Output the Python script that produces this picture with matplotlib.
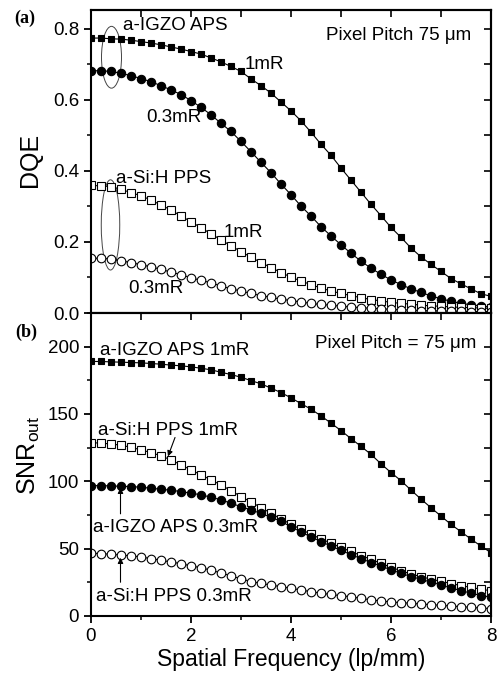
import numpy as np
import matplotlib
matplotlib.use('Agg')
import matplotlib.pyplot as plt
from matplotlib.patches import Ellipse
from matplotlib.ticker import MultipleLocator

plt.rcParams['font.family'] = ['Liberation Sans', 'DejaVu Sans']
plt.rcParams['mathtext.fontset'] = 'custom'
plt.rcParams['mathtext.rm'] = 'Liberation Sans'

# spatial frequency grid (lp/mm), 0.2 step
freq = np.round(np.arange(0, 8.01, 0.2), 1)

# DQE curves
dqe_igzo_1mr = [0.774, 0.774, 0.772, 0.771, 0.768, 0.764, 0.760, 0.755, 0.749, 0.743,
                0.736, 0.729, 0.718, 0.707, 0.694, 0.680, 0.659, 0.640, 0.619, 0.594,
                0.569, 0.541, 0.509, 0.475, 0.444, 0.408, 0.374, 0.340, 0.306, 0.274,
                0.241, 0.213, 0.183, 0.158, 0.137, 0.117, 0.097, 0.082, 0.068, 0.054, 0.047]
dqe_igzo_03mr = [0.682, 0.682, 0.680, 0.675, 0.668, 0.660, 0.651, 0.640, 0.628, 0.615,
                 0.598, 0.579, 0.558, 0.534, 0.511, 0.483, 0.454, 0.424, 0.395, 0.363,
                 0.333, 0.301, 0.273, 0.243, 0.217, 0.192, 0.168, 0.146, 0.126, 0.109,
                 0.093, 0.080, 0.068, 0.058, 0.048, 0.040, 0.033, 0.027, 0.023, 0.020, 0.017]
dqe_si_1mr = [0.359, 0.358, 0.356, 0.348, 0.339, 0.330, 0.318, 0.304, 0.290, 0.273,
              0.257, 0.240, 0.223, 0.206, 0.189, 0.173, 0.157, 0.142, 0.128, 0.114,
              0.101, 0.090, 0.080, 0.070, 0.062, 0.055, 0.049, 0.043, 0.038, 0.034,
              0.030, 0.027, 0.025, 0.022, 0.020, 0.019, 0.017, 0.016, 0.015, 0.014, 0.013]
dqe_si_03mr = [0.154, 0.154, 0.152, 0.147, 0.142, 0.136, 0.130, 0.123, 0.115, 0.108,
               0.099, 0.092, 0.085, 0.076, 0.068, 0.062, 0.055, 0.049, 0.044, 0.039,
               0.035, 0.031, 0.027, 0.024, 0.022, 0.019, 0.017, 0.015, 0.013, 0.012,
               0.010, 0.009, 0.008, 0.007, 0.006, 0.006, 0.005, 0.005, 0.004, 0.004, 0.004]

# SNR_out curves
snr_igzo_1mr = [189.0, 189.0, 188.7, 188.5, 188.2, 188.0, 187.5, 187.0, 186.3, 185.8,
                185.0, 184.0, 182.8, 181.0, 179.3, 177.3, 174.8, 172.4, 169.2, 165.9,
                162.0, 157.7, 153.6, 148.6, 143.2, 137.7, 131.7, 126.0, 120.0, 113.0,
                106.5, 100.5, 93.5, 86.8, 80.4, 74.2, 68.0, 62.6, 57.1, 51.9, 47.0]
snr_igzo_03mr = [96.8, 96.8, 96.6, 96.3, 96.1, 95.6, 94.9, 94.1, 93.4, 92.4,
                 91.2, 90.0, 88.2, 86.3, 83.7, 81.2, 78.7, 76.2, 73.3, 70.3,
                 66.2, 62.4, 58.7, 55.2, 51.9, 48.7, 45.6, 42.6, 39.7, 37.0,
                 34.3, 31.7, 29.3, 27.3, 25.1, 23.1, 20.7, 18.9, 16.9, 15.2, 14.0]
snr_si_1mr = [128.8, 128.3, 127.8, 126.8, 125.3, 123.3, 121.4, 118.9, 115.9, 112.2,
              108.5, 104.8, 101.1, 97.3, 93.1, 88.7, 84.7, 80.5, 76.3, 72.1,
              68.1, 64.4, 60.7, 57.3, 54.1, 50.9, 47.9, 44.9, 42.1, 39.1,
              36.2, 33.6, 31.2, 29.2, 27.4, 25.7, 24.1, 22.6, 21.2, 19.9, 18.7]
snr_si_03mr = [46.6, 46.3, 45.8, 45.3, 44.6, 43.9, 42.6, 41.4, 40.1, 38.9,
               37.2, 35.9, 34.0, 32.0, 29.8, 27.6, 25.6, 24.2, 23.0, 21.8,
               20.6, 19.3, 18.1, 16.9, 16.0, 15.1, 14.2, 13.2, 11.9, 11.2,
               10.4, 9.9, 9.4, 8.9, 8.4, 7.9, 7.4, 6.9, 6.4, 5.9, 5.5]

FS_TICK = 13.5
FS_NOTE = 13.5


def curve(ax, y, marker, filled, ms):
    ax.plot(freq, y, color='black', lw=0.8, marker=marker, ms=ms,
            mfc='black' if filled else 'white', mec='black', mew=0.8)


def style_axes(ax, ymajor, yminor):
    for s in ax.spines.values():
        s.set_linewidth(1.5)
    ax.set_xlim(0, 8)
    ax.xaxis.set_major_locator(MultipleLocator(2))
    ax.xaxis.set_minor_locator(MultipleLocator(1))
    ax.yaxis.set_major_locator(MultipleLocator(ymajor))
    ax.yaxis.set_minor_locator(MultipleLocator(yminor))
    ax.tick_params(which='major', direction='out', length=5, width=1.3, labelsize=FS_TICK)
    ax.tick_params(which='minor', direction='out', length=3, width=1.1)
    # top and right ticks point inward
    top = ax.secondary_xaxis('top')
    top.xaxis.set_major_locator(MultipleLocator(2))
    top.xaxis.set_minor_locator(MultipleLocator(1))
    top.tick_params(which='both', direction='in', labeltop=False, width=1.2)
    top.tick_params(which='major', length=5)
    top.tick_params(which='minor', length=5)
    right = ax.secondary_yaxis('right')
    right.yaxis.set_major_locator(MultipleLocator(ymajor))
    right.yaxis.set_minor_locator(MultipleLocator(yminor))
    right.tick_params(which='both', direction='in', labelright=False, width=1.2, length=5)
    for sec in (top, right):
        for s in sec.spines.values():
            s.set_linewidth(1.5)


fig = plt.figure(figsize=(4.97, 6.75), dpi=100)
ax1 = fig.add_axes([91 / 497, 1 - 313 / 675, 400 / 497, 303 / 675])
ax2 = fig.add_axes([91 / 497, 1 - 616 / 675, 400 / 497, 303 / 675])

# (a) DQE
curve(ax1, dqe_igzo_1mr, 's', True, 5)
curve(ax1, dqe_igzo_03mr, 'o', True, 6)
curve(ax1, dqe_si_1mr, 's', False, 5.5)
curve(ax1, dqe_si_03mr, 'o', False, 6.2)
ax1.set_ylim(0, 0.853)
style_axes(ax1, 0.2, 0.1)
ax1.tick_params(labelbottom=False)
ax1.yaxis.set_major_formatter(matplotlib.ticker.FormatStrFormatter('%.1f'))

ax1.add_patch(Ellipse((0.41, 0.72), 0.4, 0.174, fill=False, lw=0.7, ec='#444444'))
ax1.add_patch(Ellipse((0.39, 0.248), 0.37, 0.254, fill=False, lw=0.7, ec='#444444'))
ax1.text(0.64, 0.808, 'a-IGZO APS', fontsize=FS_NOTE, va='center')
ax1.text(3.08, 0.699, '1mR', fontsize=FS_NOTE, va='center')
ax1.text(1.11, 0.551, '0.3mR', fontsize=FS_NOTE, va='center')
ax1.text(0.51, 0.38, 'a-Si:H PPS', fontsize=FS_NOTE, va='center')
ax1.text(2.65, 0.228, '1mR', fontsize=FS_NOTE, va='center')
ax1.text(0.75, 0.07, '0.3mR', fontsize=FS_NOTE, va='center')
ax1.text(7.61, 0.78, 'Pixel Pitch 75 \u03bcm', fontsize=FS_NOTE, va='center', ha='right')

# (b) SNR_out
curve(ax2, snr_igzo_1mr, 's', True, 5)
curve(ax2, snr_si_1mr, 's', False, 5.5)
curve(ax2, snr_igzo_03mr, 'o', True, 6)
curve(ax2, snr_si_03mr, 'o', False, 6.2)
ax2.set_ylim(0, 225)
style_axes(ax2, 50, 25)
ax2.set_xlabel('Spatial Frequency (lp/mm)', fontsize=16.5, labelpad=2)

ax2.text(0.18, 197, 'a-IGZO APS 1mR', fontsize=FS_NOTE, va='center')
ax2.text(7.7, 202.6, 'Pixel Pitch = 75 \u03bcm', fontsize=FS_NOTE, va='center', ha='right')
ax2.text(0.15, 138, 'a-Si:H PPS 1mR', fontsize=FS_NOTE, va='center')
ax2.text(0.04, 66, 'a-IGZO APS 0.3mR', fontsize=FS_NOTE, va='center')
ax2.text(0.09, 14.3, 'a-Si:H PPS 0.3mR', fontsize=FS_NOTE, va='center')

arrow = dict(arrowstyle='-|>', lw=0.8, color='black', mutation_scale=8)
ax2.annotate('', xy=(1.52, 116.6), xytext=(1.7, 134.5), arrowprops=arrow)
ax2.annotate('', xy=(0.59, 97.3), xytext=(0.59, 73.8), arrowprops=arrow)
ax2.annotate('', xy=(0.59, 45.3), xytext=(0.59, 23.0), arrowprops=arrow)

fig.text(30 / 497, 1 - 160 / 675, 'DQE', fontsize=18, rotation=90, ha='center', va='center')
fig.text(29 / 497, 1 - 455 / 675, r'SNR$_{\mathrm{out}}$', fontsize=18, rotation=90,
         ha='center', va='center')
fig.text(25 / 497, 1 - 18 / 675, '(a)', fontsize=13, fontweight='bold',
         family='Liberation Serif', ha='center', va='center')
fig.text(26 / 497, 1 - 332 / 675, '(b)', fontsize=13, fontweight='bold',
         family='Liberation Serif', ha='center', va='center')

fig.savefig('out.png', dpi=100)
